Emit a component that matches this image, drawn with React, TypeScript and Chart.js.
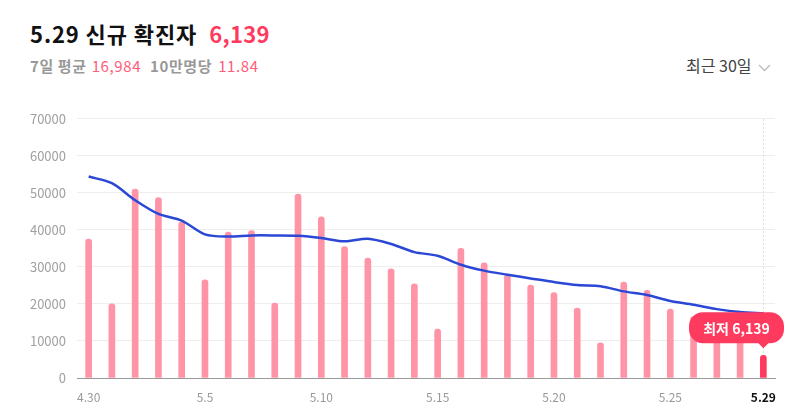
import React, { useEffect, useRef } from "react";
import { Chart, registerables } from "chart.js";

Chart.register(...registerables);

const labels = ["4.30","5.1","5.2","5.3","5.4","5.5","5.6","5.7","5.8","5.9","5.10","5.11","5.12","5.13","5.14","5.15","5.16","5.17","5.18","5.19","5.20","5.21","5.22","5.23","5.24","5.25","5.26","5.27","5.28","5.29"];
const dailyCases = [37500,20000,51000,48700,42200,26500,39400,39800,20200,49700,43500,35500,32400,29500,25400,13200,35000,31100,27900,25100,23100,18900,9500,25900,23700,18600,16600,14400,13500,6139];
const weeklyAvg = [54400,52600,48000,44300,42500,38800,38200,38500,38500,38400,37800,36900,37600,36200,34000,33000,30600,29000,27900,26900,25900,25100,24800,23400,22400,20800,19800,18600,17800,17500];
const yTicks = [0,10000,20000,30000,40000,50000,60000,70000];
const tooltipText = "최저 6,139";

const FONT = "'Noto Sans CJK KR', 'Noto Sans', sans-serif";
const RED = "#ff3a5f";
const PINK = "#ff94a7";

const overlayPlugin = {
  id: "overlay",
  beforeDatasetsDraw(chart: any) {
    const ctx = chart.ctx;
    const meta = chart.getDatasetMeta(1);
    const last = meta.data[meta.data.length - 1];
    const { top, bottom } = chart.chartArea;
    ctx.save();
    ctx.strokeStyle = "#dddddd";
    ctx.lineWidth = 1;
    ctx.setLineDash([2, 2]);
    ctx.beginPath();
    ctx.moveTo(Math.round(last.x) + 0.5, top);
    ctx.lineTo(Math.round(last.x) + 0.5, bottom);
    ctx.stroke();
    ctx.restore();
  },
  afterDraw(chart: any) {
    const ctx = chart.ctx;
    const meta = chart.getDatasetMeta(1);
    const last = meta.data[meta.data.length - 1];
    const x = last.x;
    const yTip = last.y - 7;
    ctx.save();
    ctx.font = `bold 14px ${FONT}`;
    const w = 95;
    const h = 31;
    const right = Math.min(x + 21, chart.width - 8);
    const left = right - w;
    const boxBottom = yTip - 5;
    const boxTop = boxBottom - h;
    const r = 14;
    ctx.fillStyle = RED;
    ctx.beginPath();
    ctx.moveTo(left + r, boxTop);
    ctx.lineTo(right - r, boxTop);
    ctx.arcTo(right, boxTop, right, boxTop + r, r);
    ctx.lineTo(right, boxBottom - r);
    ctx.arcTo(right, boxBottom, right - r, boxBottom, r);
    ctx.lineTo(x + 5, boxBottom);
    ctx.lineTo(x, yTip);
    ctx.lineTo(x - 5, boxBottom);
    ctx.lineTo(left + r, boxBottom);
    ctx.arcTo(left, boxBottom, left, boxBottom - r, r);
    ctx.lineTo(left, boxTop + r);
    ctx.arcTo(left, boxTop, left + r, boxTop, r);
    ctx.closePath();
    ctx.fill();
    ctx.fillStyle = "#ffffff";
    ctx.textAlign = "center";
    ctx.textBaseline = "middle";
    ctx.fillText(tooltipText, (left + right) / 2, (boxTop + boxBottom) / 2 + 1);
    ctx.restore();
  },
};

export default function App() {
  const ref = useRef<HTMLCanvasElement | null>(null);
  useEffect(() => {
    if (!ref.current) return;
    const n = labels.length;
    const chart = new Chart(ref.current, {
      data: {
        labels,
        datasets: [
          {
            type: "line",
            data: weeklyAvg,
            borderColor: "#2b47d6",
            borderWidth: 2.5,
            pointRadius: 0,
            tension: 0.3,
            order: 0,
          } as any,
          {
            type: "bar",
            data: dailyCases,
            backgroundColor: dailyCases.map((_, i) => (i === n - 1 ? RED : PINK)),
            barThickness: 6,
            borderRadius: { topLeft: 3, topRight: 3, bottomLeft: 0, bottomRight: 0 },
            borderSkipped: "bottom",
            order: 1,
          } as any,
        ],
      },
      options: {
        animation: false,
        responsive: true,
        maintainAspectRatio: false,
        layout: { padding: { left: 0, right: 17, top: 16, bottom: 0 } },
        plugins: { legend: { display: false }, tooltip: { enabled: false } },
        scales: {
          x: {
            offset: true,
            grid: { display: false, drawTicks: false },
            border: { display: true, color: "#999999", width: 1 },
            afterFit(scale: any) {
              scale.height = 38;
            },
            ticks: {
              autoSkip: false,
              maxRotation: 0,
              padding: 12,
              callback: (_v: any, i: number) => (i % 5 === 0 || i === n - 1 ? labels[i] : ""),
              color: (c: any) => (c.index === n - 1 ? "#111111" : "#999999"),
              font: (c: any) => ({ family: FONT, size: 12, weight: c.index === n - 1 ? "bold" : "normal" }),
            },
          },
          y: {
            min: 0,
            max: 70000,
            afterFit(scale: any) {
              scale.width = 77;
            },
            afterBuildTicks(scale: any) {
              scale.ticks = yTicks.map((v) => ({ value: v }));
            },
            grid: { color: "#eeeeee", drawTicks: false },
            border: { display: false },
            ticks: {
              padding: 11,
              color: "#a0a0a0",
              font: { family: FONT, size: 13 },
              callback: (v: any) => String(v),
            },
          },
        },
      },
      plugins: [overlayPlugin],
    });
    return () => chart.destroy();
  }, []);

  return (
    <div style={{ position: "relative", width: 792, height: 416, margin: -8, background: "#fff", fontFamily: FONT, overflow: "hidden" }}>
      <div style={{ position: "absolute", left: 30, top: 18, fontSize: 22, fontWeight: 700, color: "#111", whiteSpace: "nowrap", lineHeight: "30px", letterSpacing: 0.9 }}>
        5.29 신규 확진자<span style={{ color: RED, marginLeft: 12, letterSpacing: 0.3 }}>6,139</span>
      </div>
      <div style={{ position: "absolute", left: 30, top: 55, fontSize: 15, color: "#999", whiteSpace: "nowrap", lineHeight: "22px", letterSpacing: 0.6 }}>
        <span style={{ fontWeight: 700 }}>7일 평균</span>
        <span style={{ color: "#ff5c7a", marginLeft: 5 }}>16,984</span>
        <span style={{ fontWeight: 700, marginLeft: 9 }}>10만명당</span>
        <span style={{ color: "#ff5c7a", marginLeft: 6 }}>11.84</span>
      </div>
      <div style={{ position: "absolute", left: 686, top: 54, fontSize: 16, color: "#444", whiteSpace: "nowrap", lineHeight: "22px" }}>
        최근 30일
        <svg width="13" height="8" style={{ marginLeft: 6, verticalAlign: "middle" }}>
          <polyline points="1,1 6.5,6.5 12,1" fill="none" stroke="#bbb" strokeWidth="1.3" />
        </svg>
      </div>
      <div style={{ position: "absolute", left: 0, top: 100, width: 792, height: 316 }}>
        <canvas ref={ref} />
      </div>
    </div>
  );
}
